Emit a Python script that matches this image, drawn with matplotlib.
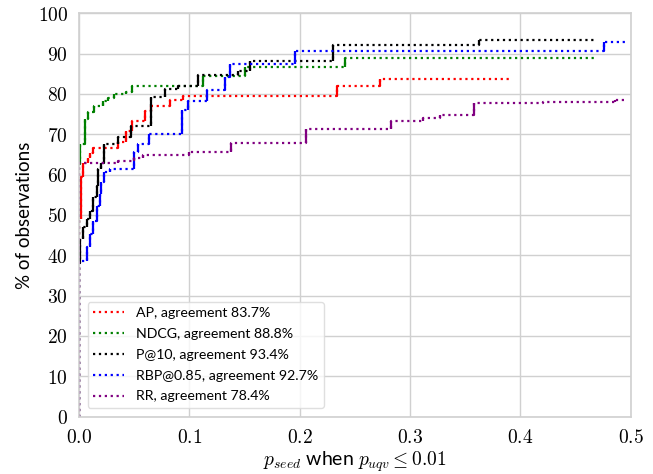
import matplotlib
matplotlib.use("Agg")
import matplotlib.pyplot as plt
import numpy as np

plt.rcParams['mathtext.fontset'] = 'cm'
plt.rcParams['font.family'] = ['Lato', 'DejaVu Sans']

labels = ["AP, agreement 83.7%", "NDCG, agreement 88.8%", "P@10, agreement 93.4%",
          "RBP@0.85, agreement 92.7%", "RR, agreement 78.4%"]
colors = ["red", "green", "black", "blue", "purple"]

ap_x = [0.0, 0.0, 0.002, 0.004, 0.008, 0.010, 0.013, 0.035, 0.043, 0.048, 0.060, 0.065, 0.082, 0.094, 0.234, 0.273, 0.390]
ap_y = [0.0, 49.0, 59.5, 63.0, 64.0, 65.4, 66.7, 68.2, 70.7, 73.2, 75.7, 77.0, 78.6, 79.4, 81.9, 83.7, 83.7]

ndcg_x = [0.0, 0.0, 0.001, 0.005, 0.008, 0.014, 0.022, 0.026, 0.032, 0.043, 0.048, 0.112, 0.150, 0.241, 0.469]
ndcg_y = [0.0, 62.7, 67.7, 73.9, 75.5, 77.1, 78.2, 79.0, 80.0, 80.6, 82.0, 84.5, 86.8, 88.8, 88.8]

p10_x = [0.0, 0.0, 0.001, 0.004, 0.007, 0.010, 0.013, 0.016, 0.017, 0.020, 0.023, 0.035, 0.047, 0.065, 0.078, 0.090, 0.108, 0.144, 0.155, 0.230, 0.362, 0.469]
p10_y = [0.0, 38.0, 44.0, 47.0, 49.0, 51.0, 54.4, 57.3, 61.4, 63.0, 67.6, 69.3, 72.0, 79.2, 81.2, 82.0, 84.8, 85.8, 88.2, 92.2, 93.4, 93.4]

rbp_x = [0.0, 0.0, 0.007, 0.010, 0.013, 0.016, 0.019, 0.020, 0.023, 0.028, 0.050, 0.053, 0.063, 0.093, 0.099, 0.116, 0.132, 0.137, 0.196, 0.476, 0.497]
rbp_y = [0.0, 38.5, 42.0, 45.4, 48.6, 52.3, 55.2, 58.1, 60.6, 61.4, 65.5, 67.6, 70.1, 75.9, 78.3, 81.0, 84.3, 87.4, 90.7, 92.9, 92.9]

rr_x = [0.0, 0.0, 0.035, 0.050, 0.058, 0.100, 0.138, 0.206, 0.283, 0.312, 0.327, 0.358, 0.420, 0.486, 0.497]
rr_y = [0.0, 62.8, 63.3, 64.0, 64.8, 65.6, 67.8, 71.3, 73.4, 74.0, 74.9, 77.7, 78.0, 78.4, 78.4]

series = [(ap_x, ap_y), (ndcg_x, ndcg_y), (p10_x, p10_y), (rbp_x, rbp_y), (rr_x, rr_y)]

fig = plt.figure(figsize=(6.53, 4.74), dpi=100)
ax = fig.add_axes([0.121, 0.121, 0.845, 0.851])

for (xs, ys), c, lab in zip(series, colors, labels):
    xs = np.array(xs); ys = np.array(ys)
    ax.plot(xs, ys, drawstyle='steps-post', ls=':', lw=1.6, color=c, label=lab)
    # solid vertical jumps (skip the initial rise from zero)
    ax.vlines(xs[2:], ys[1:-1], ys[2:], colors=c, lw=1.6)

ax.set_xlim(0, 0.5)
ax.set_ylim(0, 100)
ax.set_xticks(np.arange(0, 0.51, 0.1))
ax.set_xticklabels([f"${v:.1f}$" for v in np.arange(0, 0.51, 0.1)], fontsize=14)
ax.set_yticks(np.arange(0, 101, 10))
ax.set_yticklabels([f"${v}$" for v in range(0, 101, 10)], fontsize=14)
ax.tick_params(axis='x', length=0, pad=8)
ax.tick_params(axis='y', length=0, pad=8)
ax.grid(True, color='#d0d0d0', lw=1)
ax.set_axisbelow(True)
for s in ax.spines.values():
    s.set_color('#d0d0d0')
    s.set_linewidth(1.2)

ax.set_xlabel(r"$p_{seed}$ when $p_{uqv} \leq 0.01$", fontsize=14, labelpad=3)
ax.set_ylabel("% of observations", fontsize=13.5, labelpad=3)

leg = ax.legend(loc='lower left', fontsize=10.2, frameon=True, handlelength=2.2,
                borderaxespad=0.6, labelspacing=0.62)
leg.get_frame().set_edgecolor('#d8d8d8')

fig.savefig("out.png", dpi=100)
